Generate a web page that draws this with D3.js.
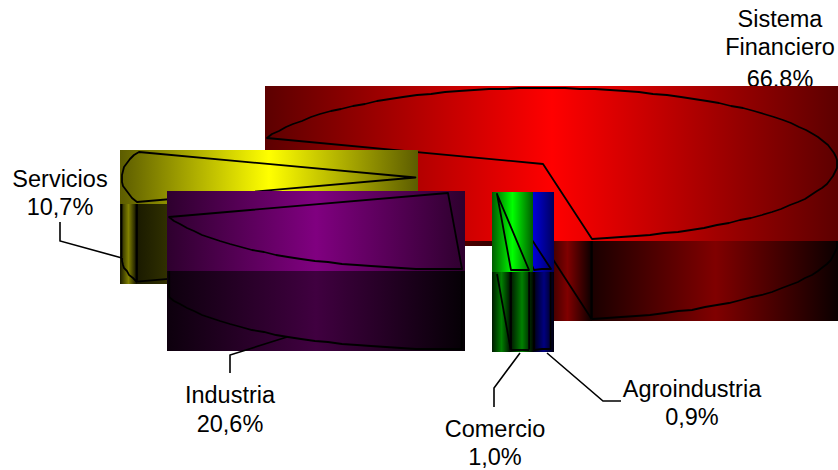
<!DOCTYPE html>
<html>
<head>
<meta charset="utf-8">
<script src="https://cdn.jsdelivr.net/npm/d3@7"></script>
<style>
html,body{margin:0;padding:0;background:#fff}
svg{display:block}
text{font-family:"Liberation Sans",Arial,sans-serif;font-size:23.5px;fill:#000;text-anchor:middle}
</style>
</head>
<body>
<svg id="c" width="838" height="470"></svg>
<script>
// Data, in pie order (clockwise from the first slice)
const categories = ["Sistema Financiero", "Agroindustria", "Comercio", "Industria", "Servicios"];
const shares = [66.8, 0.9, 1.0, 20.6, 10.7];
const baseColors = ["#ff0000", "#0000ff", "#00ff00", "#800080", "#ffff00"];

// Layout: exploded slice centres, extra side padding, label anchors, leader lines
const sliceCentres = [[543,164],[502,194],[497,194],[448,193],[415.5,177.5]];
const extraPad = [[0,0],[0,1],[3,2],[0,1],[0,0]];
const labelAnchors = [[780,27],[692,397],[495,437],[230,403],[60,187]];
const labelLines = [["Sistema","Financiero"],["Agroindustria"],["Comercio"],["Industria"],["Servicios"]];
const labelGap = [[28,32],[28],[28],[29],[28]];
const leaders = [null,[[547,353],[603,401],[621,401]],[[520,353],[494,388],[494,407]],[[287,337],[230,355],[230,373]],[[122,258],[60,241],[60,222]]];
const drawOrder = [0,4,3,1,2];
const rx = 294, ry = 76, depth = 80, pad = 2, lw = 1.8;

const svg = d3.select("#c");
const defs = svg.append("defs");
const fmt = v => v.toFixed(1).replace(".", ",") + "%";

const pie = d3.pie().sort(null)
  .startAngle(-70*Math.PI/180).endAngle(290*Math.PI/180);
const arcs = pie(shares);
const sx = d3.scaleLinear().domain([-1,1]).range([-rx,rx]);
const sy = d3.scaleLinear().domain([-1,1]).range([-ry,ry]);

// Labels go first: the red block overlaps the last line of its label
const labels = svg.append("g");
categories.forEach((c,i)=>{
  const [x,y0] = labelAnchors[i];
  const lines = labelLines[i].concat([fmt(shares[i])]);
  let y = y0;
  lines.forEach((t,k)=>{
    labels.append("text").attr("x",x).attr("y",y).text(t);
    y += labelGap[i][k] || 0;
  });
});

let gid = 0;
function gradient(color, stops){
  const id = "g"+(gid++);
  const g = defs.append("linearGradient").attr("id",id);
  const base = d3.rgb(color);
  stops.forEach(([o,k])=>{
    g.append("stop").attr("offset",o)
      .attr("stop-color",d3.rgb(base.r*k,base.g*k,base.b*k).formatHex());
  });
  return "url(#"+id+")";
}
const topStops = [[0,.36],[.5,1],[1,.36]];
const wallStops = [[0,.1],[.5,.5],[1,.04]];
const lineGen = d3.line().x(p=>p[0]).y(p=>p[1]);

function drawSlice(g, a, i){
  const [cx,cy] = sliceCentres[i];
  const pt = t => [cx+sx(Math.sin(t)), cy-sy(Math.cos(t))];
  const rnd = p => [Math.round(p[0]),Math.round(p[1])];
  const arcPts = (t0,t1)=>{
    const pts=[], n=Math.max(1,Math.ceil((t1-t0)/(Math.PI/60)));
    for(let k=0;k<=n;k++) pts.push(pt(t0+(t1-t0)*k/n));
    return pts;
  };
  const a0=a.startAngle, a1=a.endAngle;
  const all = [[cx,cy]].concat(arcPts(a0,a1));
  const L=Math.round(d3.min(all,p=>p[0])-pad-extraPad[i][0]), R=Math.round(d3.max(all,p=>p[0])+pad+extraPad[i][1]),
        T=Math.round(d3.min(all,p=>p[1])-pad), B=Math.round(d3.max(all,p=>p[1])+pad);

  // wall faces
  const faces=[];
  const P0=pt(a0),P1=pt(a1),PC=[cx,cy];
  if(Math.sin(a0)<0) faces.push({kind:"cut",pts:[P0,PC],edge:[P0]});
  if(Math.sin(a1)>0) faces.push({kind:"cut",pts:[PC,P1],edge:[P1]});
  const f0=Math.max(a0,Math.PI/2), f1=Math.min(a1,3*Math.PI/2);
  if(f1>f0){
    const p=arcPts(f0,f1);
    faces.push({kind:"arc",pts:p.map(rnd),edge:[p[0],p[p.length-1]]});
  }
  faces.forEach(f=>{f.x0=Math.round(d3.min(f.pts,p=>p[0]));f.x1=Math.round(d3.max(f.pts,p=>p[0]));
    f.yb=Math.round(d3.max(f.pts,p=>p[1])+depth+pad);});
  faces.sort((m,n)=>m.x0-n.x0);
  faces.forEach((f,k)=>{
    const x0 = k===0?L:f.x0, x1 = k===faces.length-1?R:faces[k+1].x0;
    const y0 = Math.min(B,T+depth);
    g.append("rect").attr("x",x0).attr("y",y0).attr("width",x1-x0)
      .attr("height",f.yb-y0)
      .attr("fill",gradient(baseColors[i],wallStops));
  });
  faces.forEach(f=>{
    g.append("path").attr("d",lineGen(f.pts.map(p=>[p[0],p[1]+depth])))
      .attr("fill","none").attr("stroke","#000").attr("stroke-width",lw);
    f.edge.forEach(p=>{
      g.append("line").attr("x1",p[0]).attr("x2",p[0]).attr("y1",p[1]).attr("y2",p[1]+depth)
        .attr("stroke","#000").attr("stroke-width",lw);
    });
  });

  // top face
  g.append("rect").attr("x",L).attr("y",T).attr("width",R-L).attr("height",B-T)
    .attr("fill",gradient(baseColors[i],topStops));
  g.append("path")
    .attr("d",lineGen([PC].concat(arcPts(a0,a1).map(rnd)))+"Z")
    .attr("fill","none").attr("stroke","#000").attr("stroke-width",lw)
    .attr("stroke-linejoin","round");
}

const slices = svg.append("g");
drawOrder.forEach(i=>drawSlice(slices.append("g").attr("class","slice"),arcs[i],i));

svg.append("g").selectAll("path").data(leaders.filter(Boolean)).join("path")
  .attr("d",lineGen).attr("fill","none").attr("stroke","#000").attr("stroke-width",1.6);
</script>
</body>
</html>
